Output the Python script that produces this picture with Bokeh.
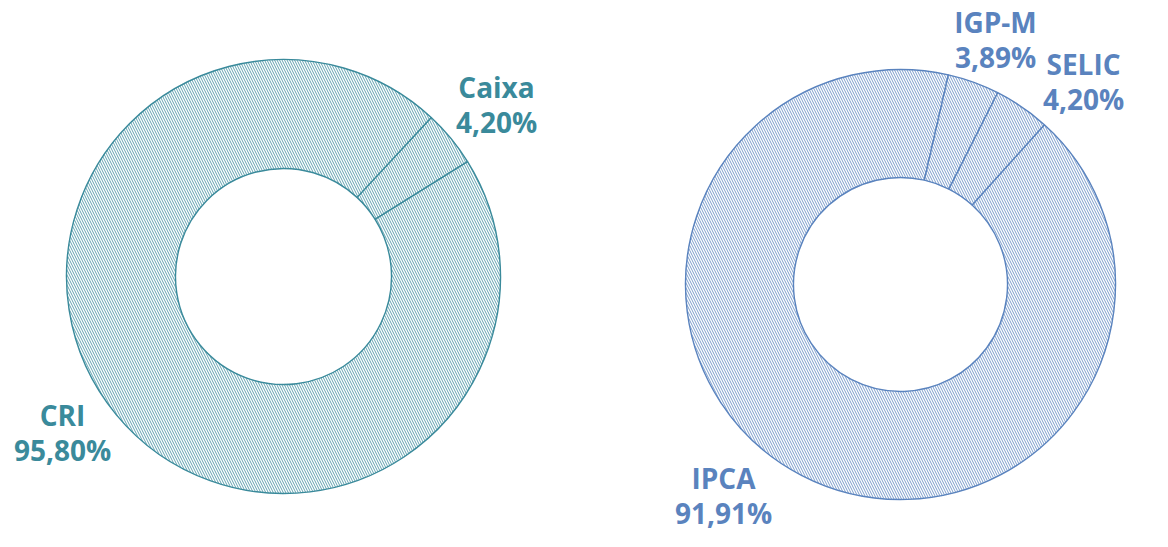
import numpy as np
from bokeh.plotting import figure
from bokeh.models import Range1d, ColumnDataSource
from bokeh.core.properties import value
from bokeh.embed import file_html
from bokeh.resources import INLINE

# ---- data ----
left_categories = ["Caixa", "CRI"]
left_values = [4.20, 95.80]
right_categories = ["IPCA", "IGP-M", "SELIC"]
right_values = [91.91, 3.89, 4.20]

W, H = 1152, 531
TEAL = "#3a8a9b"
BLUE = "#5a83be"
FONT = "Open Sans"

p = figure(width=W, height=H, output_backend="svg", toolbar_location=None,
           x_range=Range1d(0, W), y_range=Range1d(0, H), min_border=0)
p.axis.visible = False
p.grid.visible = False
p.outline_line_color = None
p.background_fill_color = "white"
p.border_fill_color = "white"


def donut(cats, vals, cx, cy, r_in, r_out, start_cw_deg, color):
    vals = np.array(vals, dtype=float)
    frac = vals / vals.sum() * 360.0
    cw_end = start_cw_deg + np.cumsum(frac)
    cw_start = cw_end - frac
    start = np.deg2rad(90 - cw_end)
    end = np.deg2rad(90 - cw_start)
    src = ColumnDataSource(dict(cat=cats, start=start, end=end))
    p.annular_wedge(x=cx, y=cy, inner_radius=r_in, outer_radius=r_out,
                    start_angle="start", end_angle="end", source=src,
                    fill_color="white", line_color=color, line_width=1.4,
                    hatch_pattern="\\", hatch_color=color, hatch_scale=5,
                    hatch_weight=1.0, hatch_alpha=0.8)


def label(name, val, x, y, color):
    txt = f"{val:.2f}".replace(".", ",") + "%"
    p.text(x=[x], y=[y], text=[name], text_color=color,
           text_font=value(FONT), text_font_style="bold", text_font_size="28px",
           text_align="center", text_baseline="middle")
    p.text(x=[x], y=[y - 35], text=[txt], text_color=color,
           text_font=value(FONT), text_font_style="bold", text_font_size="28px",
           text_align="center", text_baseline="middle")


# screen px -> data: x = X, y = 531 - Y
donut(left_categories, left_values, 283, 255, 108, 217, 42.9, TEAL)
donut(right_categories, right_values, 900, 247, 107, 215, 42.0, BLUE)

label_pos = {
    "Caixa": (496, 445), "CRI": (62, 117),
    "IPCA": (723, 54), "IGP-M": (995, 510), "SELIC": (1083, 468),
}
for c, v in zip(left_categories, left_values):
    label(c, v, *label_pos[c], TEAL)
for c, v in zip(right_categories, right_values):
    label(c, v, *label_pos[c], BLUE)

open("out.html", "w").write(file_html(p, INLINE))
